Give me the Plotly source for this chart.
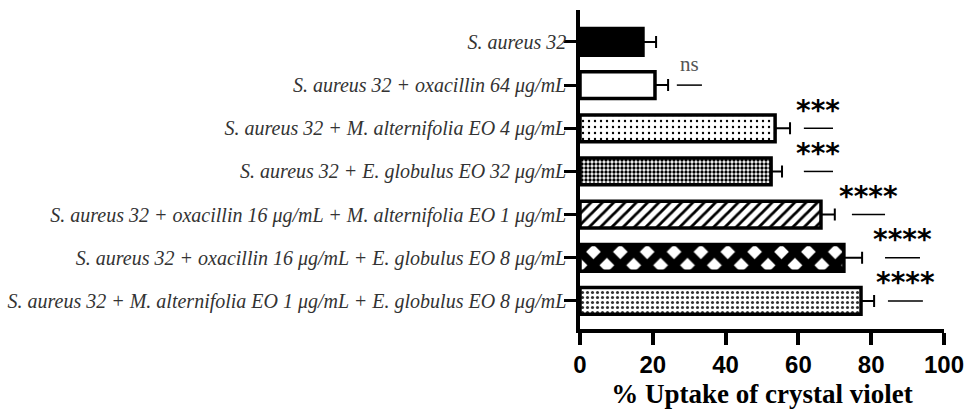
import plotly.graph_objects as go

categories = [
    "S. aureus 32",
    "S. aureus 32 + oxacillin 64 μg/mL",
    "S. aureus 32 + M. alternifolia EO 4 μg/mL",
    "S. aureus 32 + E. globulus EO 32 μg/mL",
    "S. aureus 32 + oxacillin 16 μg/mL + M. alternifolia EO 1 μg/mL",
    "S. aureus 32 + oxacillin 16 μg/mL + E. globulus EO 8 μg/mL",
    "S. aureus 32 + M. alternifolia EO 1 μg/mL + E. globulus EO 8 μg/mL",
]
uptake = [17.3, 20.6, 53.6, 52.5, 66.2, 72.5, 77.2]
uptake_err = [3.6, 3.6, 4.1, 3.0, 3.8, 5.0, 3.6]
significance = ["", "ns", "***", "***", "****", "****", "****"]

# annotation geometry (line start / end in axis units)
sig_x0 = [None, 26.6, 61.5, 61.5, 74.7, 83.8, 84.6]
sig_x1 = [None, 33.5, 69.5, 69.5, 83.8, 93.4, 94.2]

styles = [
    dict(color="black", shape="", fg="black", size=8, sol=0.3),
    dict(color="white", shape="", fg="black", size=8, sol=0.3),
    dict(color="white", shape=".", fg="black", size=6, sol=0.12),
    dict(color="white", shape=".", fg="black", size=4, sol=0.55),
    dict(color="white", shape="/", fg="black", size=8, sol=0.35),
    dict(color="white", shape="x", fg="black", size=19, sol=0.7),
    dict(color="white", shape=".", fg="#333", size=5, sol=0.3),
]

ypos = list(range(len(categories)))

fig = go.Figure()
for i in ypos:
    s = styles[i]
    fig.add_trace(go.Bar(
        x=[uptake[i]], y=[i], orientation="h", width=0.62,
        marker=dict(
            color=s["color"],
            line=dict(color="black", width=3.5),
            pattern=dict(shape=s["shape"], fgcolor=s["fg"], fgopacity=1,
                         size=s["size"], solidity=s["sol"], fillmode="overlay"),
        ),
        error_x=dict(type="data", array=[uptake_err[i]], arrayminus=[0], symmetric=False,
                     color="black", thickness=2, width=6),
        showlegend=False,
        hoverinfo="skip",
    ))

for i in ypos:
    if not significance[i]:
        continue
    xc = (sig_x0[i] + sig_x1[i]) / 2
    fig.add_shape(type="line", x0=sig_x0[i], x1=sig_x1[i], y0=i, y1=i,
                  xref="x", yref="y", line=dict(color="black", width=1.5))
    if significance[i] == "ns":
        fig.add_annotation(x=xc, y=i - 0.5, text="ns", showarrow=False,
                           font=dict(family="Liberation Serif", size=21, color="#555"))
    else:
        fig.add_annotation(x=xc, y=i - 0.42, text=significance[i], showarrow=False,
                           font=dict(family="DejaVu Sans", size=28, color="black", weight="bold"))

fig.update_layout(
    width=974, height=411,
    margin=dict(l=580, r=30, t=10, b=82),
    plot_bgcolor="white", paper_bgcolor="white",
)
fig.update_yaxes(
    range=[6.65, -0.74], tickvals=ypos, ticktext=categories, automargin=False,
    showline=True, linecolor="black", linewidth=3.5,
    ticks="outside", ticklen=12, tickwidth=2.5, tickcolor="black",
    ticklabelstandoff=-6,
    tickfont=dict(family="Liberation Serif", size=20, color="#333", style="italic"),
    showgrid=False, zeroline=False,
)
fig.update_xaxes(
    range=[0, 100], tickvals=[0, 20, 40, 60, 80, 100], automargin=False,
    showline=True, linecolor="black", linewidth=3.5,
    ticks="outside", ticklen=12, tickwidth=3.5, tickcolor="black",
    ticklabelstandoff=-1,
    tickfont=dict(family="Liberation Sans", size=24, color="black", weight="bold"),
    title=dict(text="% Uptake of crystal violet", standoff=9,
               font=dict(family="Liberation Serif", size=27, color="black", weight="bold")),
    showgrid=False, zeroline=False,
)

fig.write_html("out.html", config={"displayModeBar": False},
               post_script="document.body.style.margin='0';")
